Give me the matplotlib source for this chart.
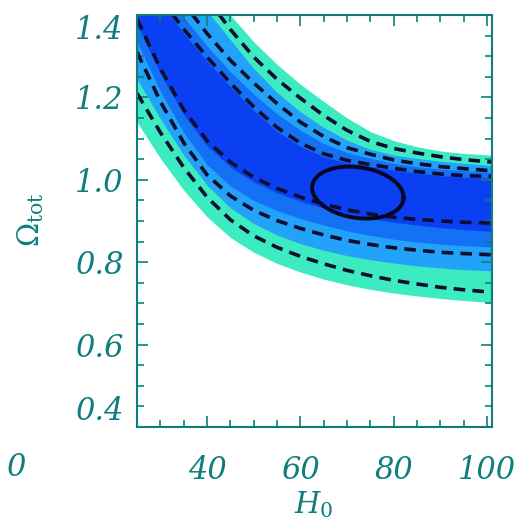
import numpy as np
import matplotlib.pyplot as plt

# H0 positions where the band edges were read
h0 = [25, 30, 35, 40, 45, 50, 55, 60, 65, 70, 75, 80, 85, 90, 95, 101]

# filled confidence regions (Omega_tot edges), outer to inner
green_top = [1.85, 1.70, 1.575, 1.48, 1.40, 1.335, 1.28, 1.232, 1.19, 1.15, 1.117, 1.095, 1.08, 1.07, 1.064, 1.06]
green_bot = [1.14, 1.052, 0.975, 0.91, 0.86, 0.824, 0.797, 0.776, 0.759, 0.745, 0.734, 0.725, 0.718, 0.712, 0.707, 0.702]
light_top = [1.67, 1.57, 1.485, 1.41, 1.34, 1.27, 1.212, 1.165, 1.127, 1.096, 1.074, 1.06, 1.052, 1.045, 1.04, 1.035]
light_bot = [1.245, 1.148, 1.06, 0.987, 0.932, 0.894, 0.866, 0.845, 0.829, 0.816, 0.806, 0.798, 0.791, 0.786, 0.782, 0.779]
mid_top = [1.56, 1.472, 1.395, 1.325, 1.262, 1.208, 1.16, 1.12, 1.088, 1.066, 1.052, 1.04, 1.032, 1.026, 1.022, 1.018]
mid_bot = [1.335, 1.215, 1.115, 1.037, 0.985, 0.95, 0.925, 0.906, 0.89, 0.876, 0.865, 0.856, 0.849, 0.844, 0.84, 0.837]
dark_top = [1.51, 1.43, 1.356, 1.288, 1.226, 1.168, 1.118, 1.081, 1.056, 1.041, 1.032, 1.024, 1.016, 1.01, 1.006, 1.004]
dark_bot = [1.378, 1.258, 1.158, 1.083, 1.031, 0.995, 0.968, 0.948, 0.931, 0.917, 0.906, 0.897, 0.89, 0.884, 0.879, 0.875]

# dashed contours
dash_u1 = [1.76, 1.63, 1.525, 1.44, 1.365, 1.298, 1.244, 1.198, 1.156, 1.12, 1.093, 1.076, 1.065, 1.056, 1.049, 1.043]
dash_u2 = [1.60, 1.51, 1.428, 1.355, 1.29, 1.235, 1.185, 1.14, 1.105, 1.078, 1.062, 1.048, 1.039, 1.032, 1.027, 1.022]
dash_u3 = [1.52, 1.44, 1.366, 1.298, 1.235, 1.177, 1.127, 1.089, 1.063, 1.047, 1.037, 1.028, 1.02, 1.014, 1.01, 1.008]
dash_l1 = [1.39, 1.27, 1.17, 1.095, 1.043, 1.006, 0.979, 0.958, 0.941, 0.927, 0.917, 0.909, 0.904, 0.9, 0.897, 0.895]
dash_l2 = [1.31, 1.19, 1.09, 1.012, 0.961, 0.926, 0.901, 0.882, 0.866, 0.853, 0.843, 0.835, 0.829, 0.824, 0.821, 0.818]
dash_l3 = [1.21, 1.115, 1.03, 0.958, 0.903, 0.864, 0.836, 0.814, 0.796, 0.78, 0.767, 0.756, 0.747, 0.739, 0.733, 0.727]

# solid inner contour (centre, half widths, tilt)
ell_h, ell_om = 72.3, 0.969
ell_dh, ell_dom = 9.8, 0.062
ell_tilt = -0.0012

teal = '#0f7d7d'

plt.rcParams['font.family'] = 'DejaVu Serif'
plt.rcParams['mathtext.fontset'] = 'dejavuserif'

fig = plt.figure(figsize=(5.21, 5.23), dpi=100)
ax = fig.add_axes([0.263, 0.1836, 0.681, 0.7877])

ax.fill_between(h0, green_bot, green_top, color='#3cebc0', lw=0)
ax.fill_between(h0, light_bot, light_top, color='#22a2f8', lw=0)
ax.fill_between(h0, mid_bot, mid_top, color='#1470f4', lw=0)
ax.fill_between(h0, dark_bot, dark_top, color='#0b40f2', lw=0)

for d in [dash_u1, dash_u2, dash_u3, dash_l1, dash_l2, dash_l3]:
    ax.plot(h0, d, color='#0d0d30', lw=2.6, dashes=(3.2, 2.0))

t = np.linspace(0, 2 * np.pi, 200)
eh = ell_h + ell_dh * np.cos(t)
eo = ell_om + ell_dom * np.sin(t) + ell_tilt * (eh - ell_h)
ax.plot(eh, eo, color='#050525', lw=2.8)

ax.set_xlim(25, 101)
ax.set_ylim(0.4, 1.4)
ax.set_xticks([40, 60, 80, 100])
ax.set_xticks(np.arange(25, 101, 5), minor=True)
ax.set_yticks([0.4, 0.6, 0.8, 1.0, 1.2, 1.4])
ax.set_yticks(np.arange(0.4, 1.41, 0.05), minor=True)
ax.set_xticklabels(['40', '60', '80', '100'])
ax.set_yticklabels(['0.4', '0.6', '0.8', '1.0', '1.2', '1.4'])

ax.tick_params(which='both', direction='in', top=True, right=True, color=teal, width=1.2)
ax.tick_params(which='major', length=8)
ax.tick_params(which='minor', length=5)
ax.tick_params(axis='x', pad=20, labelsize=22, labelcolor=teal)
ax.tick_params(axis='y', pad=10, labelsize=22, labelcolor=teal)
for lab in ax.get_xticklabels() + ax.get_yticklabels():
    lab.set_fontstyle('italic')
ax.get_yticklabels()[-1].set_va('top')
ax.get_yticklabels()[0].set_va('bottom')

for s in ax.spines.values():
    s.set_color(teal)
    s.set_linewidth(1.5)

fig.text(16 / 521, 1 - 467 / 523, '0', fontsize=22, style='italic', color=teal, ha='center', va='center')
fig.text(314 / 521, 1 - 505 / 523, r'$H_0$', fontsize=21, color=teal, ha='center', va='center')
fig.text(31 / 521, 1 - 220 / 523, r'$\Omega_{\rm tot}$', fontsize=21, color=teal, rotation=90, ha='center', va='center')

plt.savefig('out.png', dpi=100)
